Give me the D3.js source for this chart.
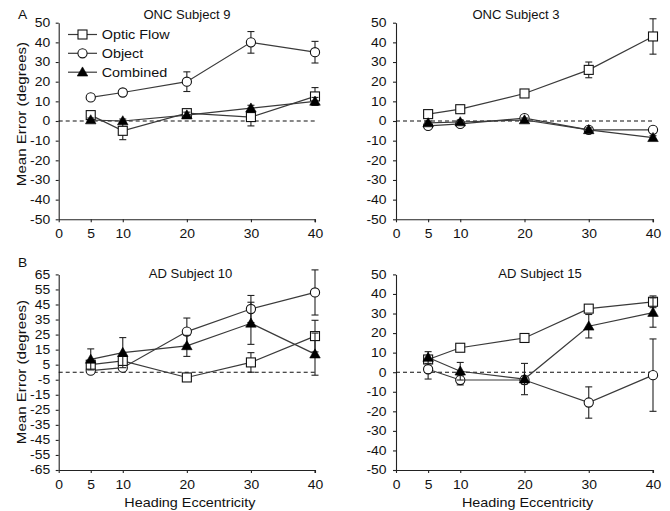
<!DOCTYPE html>
<html>
<head>
<meta charset="utf-8">
<script src="https://cdn.jsdelivr.net/npm/d3@7"></script>
<style>
  html, body { margin: 0; padding: 0; background: #fff; }
  svg { display: block; font-family: "Liberation Sans", Arial, Helvetica, sans-serif; }
</style>
</head>
<body>
<svg id="chart" width="670" height="511"></svg>
<script>
// Heading eccentricity conditions (degrees)
const eccentricity = [5, 10, 20, 30, 40];
const xTickValues = [0, 5, 10, 20, 30, 40];
const yTicksStd = [50, 40, 30, 20, 10, 0, -10, -20, -30, -40, -50];
const yTicksWide = [65, 55, 45, 35, 25, 15, 5, -5, -15, -25, -35, -45, -55, -65];

const seriesNames = ["Optic Flow", "Object", "Combined"];

// ONC Subject 9
const onc9Optic = [3, -5, 4, 2, 12.5];
const onc9OpticErr = [1.5, 4.5, 1.5, 4.5, 4.5];
const onc9Object = [12, 14.5, 20, 40, 35];
const onc9ObjectErr = [1, 1.5, 5, 5.5, 5.5];
const onc9Combined = [0.5, 0, 3, 6.5, 10];
const onc9CombinedErr = [1, 1, 1.5, 1.5, 2];

// ONC Subject 3
const onc3Optic = [3.5, 6, 14, 26, 43];
const onc3OpticErr = [1, 1.5, 1.5, 4, 9];
const onc3Object = [-2.5, -1.5, 1.5, -4.5, -4.5];
const onc3ObjectErr = [1, 1, 1, 1, 1];
const onc3Combined = [-1, -0.5, 0.5, -4.5, -8.5];
const onc3CombinedErr = [1, 1, 1, 1, 1];

// AD Subject 10
const ad10Optic = [5, 7.5, -3.5, 6.5, 24];
const ad10OpticErr = [1.5, 1.5, 2, 6.5, 10.5];
const ad10Object = [1, 3, 27, 42, 53];
const ad10ObjectErr = [1, 1.5, 9, 9, 15];
const ad10Combined = [8.5, 13, 17.5, 32.5, 12];
const ad10CombinedErr = [7, 10, 7, 14, 14];

// AD Subject 15
const ad15Optic = [6.5, 12.5, 17.5, 32.5, 36];
const ad15OpticErr = [1.5, 1.5, 1.5, 1.5, 3];
const ad15Object = [1.5, -4, -4, -15.5, -1.5];
const ad15ObjectErr = [5, 2.5, 2, 8, 18.5];
const ad15Combined = [7.5, 0.5, -3.5, 23.5, 30.5];
const ad15CombinedErr = [3, 4.5, 8, 6, 7.5];

const panels = [
  { title: "ONC Subject 9", letter: "A", x0: 58.7, x1: 315, yTop: 22.7, yBot: 219.3, domain: [-50, 50], ticks: yTicksStd,
    pad: 5.5, ylab: true, xlab: false, legend: true, titleX: 187, titleY: 19.3, labelY: 114,
    data: [[onc9Optic, onc9OpticErr], [onc9Object, onc9ObjectErr], [onc9Combined, onc9CombinedErr]] },
  { title: "ONC Subject 3", x0: 396, x1: 653, yTop: 22.7, yBot: 219.3, domain: [-50, 50], ticks: yTicksStd,
    pad: 6.5, ylab: false, xlab: false, titleX: 516, titleY: 19.3,
    data: [[onc3Optic, onc3OpticErr], [onc3Object, onc3ObjectErr], [onc3Combined, onc3CombinedErr]] },
  { title: "AD Subject 10", letter: "B", x0: 58.7, x1: 315, yTop: 274.4, yBot: 470, domain: [-65, 65], ticks: yTicksWide,
    pad: 5.5, ylab: true, xlab: true, titleX: 190.5, titleY: 277.5, labelY: 372,
    data: [[ad10Optic, ad10OpticErr], [ad10Object, ad10ObjectErr], [ad10Combined, ad10CombinedErr]] },
  { title: "AD Subject 15", x0: 396, x1: 653, yTop: 274.4, yBot: 470, domain: [-50, 50], ticks: yTicksStd,
    pad: 6.5, ylab: false, xlab: true, titleX: 540, titleY: 277.5,
    data: [[ad15Optic, ad15OpticErr], [ad15Object, ad15ObjectErr], [ad15Combined, ad15CombinedErr]] }
];

const svg = d3.select("#chart");
svg.append("rect").attr("width", 670).attr("height", 511).attr("fill", "#fff");

const axisColor = "#222";
const lineColor = "#3a3a3a";
const textColor = "#111";
const fontSize = 12;

// a wide sans text: Helvetica-style glyphs stretched along the reading direction
function wideText(parent, x, y, str, opts = {}) {
  const sx = opts.sx || 1.18;
  const rot = opts.rotate ? ` rotate(${opts.rotate})` : "";
  return parent.append("text")
    .attr("transform", `translate(${x},${y})${rot} scale(${sx},1)`)
    .attr("text-anchor", opts.anchor || "start")
    .attr("font-size", opts.size || fontSize)
    .attr("fill", textColor)
    .text(str);
}

// marker drawing per series: 0 = open square, 1 = open circle, 2 = filled triangle
function drawMarker(g, type, cx, cy) {
  if (type === 0) {
    g.append("rect").attr("x", cx - 4.5).attr("y", cy - 4.5).attr("width", 9).attr("height", 9)
      .attr("fill", "#fff").attr("stroke", "#111").attr("stroke-width", 1.1);
  } else if (type === 1) {
    g.append("circle").attr("cx", cx).attr("cy", cy).attr("r", 4.6)
      .attr("fill", "#fff").attr("stroke", "#111").attr("stroke-width", 1.1);
  } else {
    const sym = d3.symbol().type(d3.symbolTriangle).size(48);
    g.append("path").attr("d", sym()).attr("transform", `translate(${cx},${cy + 0.8})`)
      .attr("fill", "#000").attr("stroke", "#000").attr("stroke-width", 0.6);
  }
}

// restyle axis tick labels as stretched text
function stretchTicks(axisG, sx) {
  axisG.selectAll(".tick text").each(function () {
    const t = d3.select(this);
    const tx = +t.attr("x") || 0, ty = +t.attr("y") || 0;
    t.attr("x", 0).attr("y", 0)
      .attr("transform", `translate(${tx},${ty}) scale(${sx},1)`)
      .attr("fill", textColor).attr("font-size", fontSize)
      .attr("font-family", "Liberation Sans, Arial, sans-serif");
  });
}

panels.forEach(p => {
  const x = d3.scaleLinear().domain([0, 40]).range([p.x0, p.x1]);
  const y = d3.scaleLinear().domain(p.domain).range([p.yBot, p.yTop]);
  const g = svg.append("g");
  const fmt = d => String(d);

  // axes
  const yAxis = d3.axisLeft(y).tickValues(p.ticks).tickFormat(fmt).tickSize(3).tickPadding(p.pad).tickSizeOuter(0);
  const gy = g.append("g").attr("transform", `translate(${p.x0},0)`).call(yAxis);
  const xAxis = d3.axisBottom(x).tickValues(xTickValues).tickFormat(fmt).tickSize(3).tickPadding(7.5).tickSizeOuter(0);
  const gx = g.append("g").attr("transform", `translate(0,${p.yBot})`).call(xAxis);
  [gx, gy].forEach(a => {
    a.selectAll("path.domain").attr("stroke", axisColor).attr("stroke-width", 1.1);
    a.selectAll(".tick line").attr("stroke", axisColor).attr("stroke-width", 1.1);
  });
  stretchTicks(gy, 1.16);
  stretchTicks(gx, 1.16);
  // right end tick of x axis
  g.append("line").attr("x1", x(40)).attr("x2", x(40)).attr("y1", p.yBot).attr("y2", p.yBot + 3)
    .attr("stroke", axisColor).attr("stroke-width", 1.1);

  // zero reference
  g.append("line").attr("x1", x(0)).attr("x2", x(40)).attr("y1", y(0)).attr("y2", y(0))
    .attr("stroke", "#111").attr("stroke-width", 1.1).attr("stroke-dasharray", "4,3");

  // title and panel letter
  wideText(g, p.titleX, p.titleY, p.title, { anchor: "middle", sx: 1.09 });
  if (p.letter) wideText(g, 22.7, p.titleY - (p.letter === "B" ? 10.5 : 0), p.letter, { anchor: "middle", sx: 1.15 });

  if (p.ylab) {
    wideText(g, 26, p.labelY, "Mean Error (degrees)", { anchor: "middle", rotate: -90, sx: 1.26 });
  }
  if (p.xlab) {
    wideText(g, (p.x0 + p.x1) / 2 + 3, 506.5, "Heading Eccentricity", { anchor: "middle", sx: 1.2 });
  }

  // series: object first, then optic flow, combined on top
  [1, 0, 2].forEach(si => {
    const [vals, errs] = p.data[si];
    const pts = eccentricity.map((e, i) => ({ e, v: vals[i], err: errs[i] }));
    const sg = g.append("g");
    // error bars
    pts.forEach(d => {
      const cx = x(d.e);
      const yt = y(d.v + d.err), yb = y(d.v - d.err);
      sg.append("line").attr("x1", cx).attr("x2", cx).attr("y1", yt).attr("y2", yb).attr("stroke", "#222").attr("stroke-width", 1.1);
      [yt, yb].forEach(yy => sg.append("line").attr("x1", cx - 3.5).attr("x2", cx + 3.5).attr("y1", yy).attr("y2", yy)
        .attr("stroke", "#222").attr("stroke-width", 1.1));
    });
    sg.append("path").datum(pts)
      .attr("d", d3.line().x(d => x(d.e)).y(d => y(d.v)))
      .attr("fill", "none").attr("stroke", lineColor).attr("stroke-width", 1.2);
    pts.forEach(d => drawMarker(sg, si, x(d.e), y(d.v)));
  });

  // legend
  if (p.legend) {
    const rows = [34.5, 53.3, 72.2];
    seriesNames.forEach((name, i) => {
      const lg = g.append("g");
      lg.append("line").attr("x1", 68).attr("x2", 97).attr("y1", rows[i]).attr("y2", rows[i])
        .attr("stroke", lineColor).attr("stroke-width", 1.2);
      drawMarker(lg, i, 82.5, rows[i]);
      wideText(lg, 101.7, rows[i] + 4.4, name, { sx: 1.2 });
    });
  }
});
</script>
</body>
</html>
